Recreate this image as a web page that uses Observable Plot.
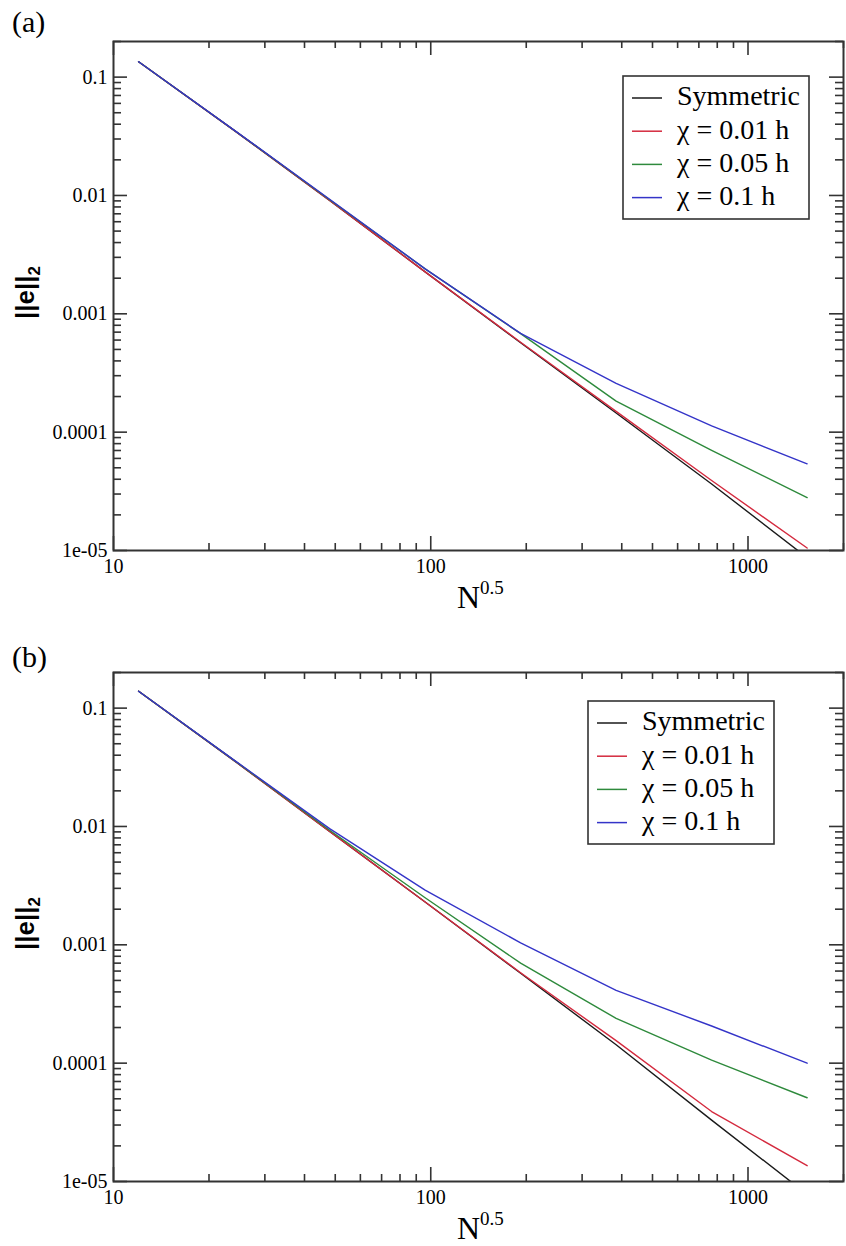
<!DOCTYPE html>
<html><head><meta charset="utf-8">
<script src="https://cdn.jsdelivr.net/npm/d3@7"></script>
<script src="https://cdn.jsdelivr.net/npm/@observablehq/plot@0.6"></script>
<style>
body{margin:0;background:#fff;}
#a,#b{display:block;line-height:0;}
svg{display:block;}
</style></head><body>
<div id="a"></div><div id="b"></div>
<script>
// ---- data ----
const nHalf = [12, 24, 48, 96, 192, 384, 768, 1536];
const seriesNames = ["Symmetric", "χ = 0.01 h", "χ = 0.05 h", "χ = 0.1 h"];
const seriesColors = ["#1a1a1a", "#d42a3e", "#2e8a3c", "#3434c8"];

const aSymmetric = [0.135, 0.0355, 0.0091, 0.00226, 0.00057, 0.000145, 3.65e-5, 8.7e-6];
const aChi001    = [0.135, 0.0355, 0.0091, 0.00226, 0.000575, 0.00015, 3.9e-5, 1.05e-5];
const aChi005    = [0.135, 0.0356, 0.0092, 0.0024, 0.00068, 0.000183, 7.0e-5, 2.8e-5];
const aChi01     = [0.135, 0.0357, 0.0093, 0.0024, 0.000684, 0.000258, 0.000113, 5.4e-5];

const bSymmetric = [0.139, 0.036, 0.0091, 0.0023, 0.000575, 0.000143, 3.3e-5, 7.8e-6];
const bChi001    = [0.139, 0.036, 0.0091, 0.0023, 0.00058, 0.000155, 3.9e-5, 1.36e-5];
const bChi005    = [0.139, 0.0362, 0.0093, 0.0025, 0.0007, 0.000239, 0.000106, 5.1e-5];
const bChi01     = [0.139, 0.0364, 0.0096, 0.0029, 0.00104, 0.000412, 0.000206, 1.0e-4];

const xTickValues = [10, 100, 1000];
const xTickLabels = ["10", "100", "1000"];
const yTickValues = [1e-5, 1e-4, 1e-3, 1e-2, 1e-1];
const yTickLabels = ["1e-05", "0.0001", "0.001", "0.01", "0.1"];
const minorMultipliers = [2, 3, 4, 5, 6, 7, 8, 9];
const xDomain = [10, 2000];
const yDomain = [1e-5, 0.2];

const xMinor = xTickValues.flatMap(d => minorMultipliers.map(k => d * k)).filter(v => v <= xDomain[1]);
const yMinor = yTickValues.flatMap(d => minorMultipliers.map(k => d * k)).filter(v => v <= yDomain[1] * 1.0001);

const SERIF = "'Liberation Serif', 'Times New Roman', serif";

function panel(el, cfg) {
  const W = 846, ML = 113, MR = 3;
  const {height, marginTop, marginBottom, series} = cfg;
  const fw = W - ML - MR, fh = height - marginTop - marginBottom;
  const data = [];
  seriesNames.forEach((name, i) => series[i].forEach((v, j) => data.push({x: nHalf[j], y: v, s: name})));
  const tk = {stroke: "#333", strokeWidth: 1.6};
  const p = Plot.plot({
    width: W, height, marginTop, marginBottom, marginLeft: ML, marginRight: MR,
    style: {fontFamily: SERIF, fontSize: "20px", background: "#fff", color: "#000", overflow: "visible"},
    x: {type: "log", domain: xDomain},
    y: {type: "log", domain: yDomain},
    color: {domain: seriesNames, range: seriesColors},
    marks: [
      Plot.line(data, {x: "x", y: "y", z: "s", stroke: "s", strokeWidth: 1.4, clip: true}),
      Plot.tickX(xTickValues, {x: d => d, insetTop: fh - 14, ...tk}),
      Plot.tickX(xTickValues, {x: d => d, insetBottom: fh - 14, ...tk}),
      Plot.tickX(xMinor, {x: d => d, insetTop: fh - 7, ...tk}),
      Plot.tickX(xMinor, {x: d => d, insetBottom: fh - 7, ...tk}),
      Plot.tickY(yTickValues, {y: d => d, insetRight: fw - 14, ...tk}),
      Plot.tickY(yTickValues, {y: d => d, insetLeft: fw - 14, ...tk}),
      Plot.tickY(yMinor, {y: d => d, insetRight: fw - 8, ...tk}),
      Plot.tickY(yMinor, {y: d => d, insetLeft: fw - 8, ...tk}),
      Plot.frame({stroke: "#333", strokeWidth: 2}),
      Plot.axisX({ticks: xTickValues, tickFormat: d => xTickLabels[xTickValues.indexOf(d)], tickSize: 0, tickPadding: 8, label: null, fontSize: 20, fontVariant: "normal"}),
      Plot.axisY({ticks: yTickValues, tickFormat: d => yTickLabels[yTickValues.indexOf(d)], tickSize: 0, tickPadding: 6, label: null, fontSize: 20, fontVariant: "normal"})
    ]
  });
  const svg = d3.select(p);
  // panel label
  svg.append("text").attr("x", 12).attr("y", cfg.panelY).attr("font-family", SERIF).attr("text-anchor", "start")
    .attr("font-size", 30).attr("fill", "#000").text(cfg.panelLabel);
  // x label N^0.5
  const xl = svg.append("text").attr("x", 457).attr("y", height - marginBottom + 58).attr("text-anchor", "start")
    .attr("font-family", SERIF).attr("font-size", 32).attr("fill", "#000");
  xl.append("tspan").text("N");
  xl.append("tspan").attr("font-size", 19).attr("dy", -14).text("0.5");
  // y label ||e||_2
  const yl = svg.append("text").attr("transform", `translate(34,${marginTop + 278}) rotate(-90)`).attr("text-anchor", "start")
    .attr("font-family", "'Liberation Sans', sans-serif").attr("font-weight", "bold").attr("font-size", 26).attr("fill", "#000");
  yl.append("tspan").text("||e||");
  yl.append("tspan").attr("font-size", 17).attr("dy", 6).text("2");
  // legend
  const g = svg.append("g").attr("text-anchor", "start");
  const {lx, ly} = cfg;
  g.append("rect").attr("x", lx).attr("y", ly).attr("width", 186).attr("height", 143)
    .attr("fill", "#fff").attr("stroke", "#333").attr("stroke-width", 1.6);
  seriesNames.forEach((name, i) => {
    const yy = ly + 22 + i * 33.2;
    g.append("line").attr("x1", lx + 9).attr("x2", lx + 39).attr("y1", yy).attr("y2", yy)
      .attr("stroke", seriesColors[i]).attr("stroke-width", 1.5);
    g.append("text").attr("x", lx + 54).attr("y", yy + 7.4).attr("font-family", SERIF)
      .attr("font-size", 28).attr("fill", "#000").text(name);
  });
  document.getElementById(el).appendChild(p);
}

panel("a", {height: 620, marginTop: 41, marginBottom: 70, series: [aSymmetric, aChi001, aChi005, aChi01],
  panelLabel: "(a)", panelY: 31.5, lx: 623, ly: 76});
panel("b", {height: 626, marginTop: 52, marginBottom: 65, series: [bSymmetric, bChi001, bChi005, bChi01],
  panelLabel: "(b)", panelY: 46.5, lx: 588, ly: 81});
</script>
</body></html>
